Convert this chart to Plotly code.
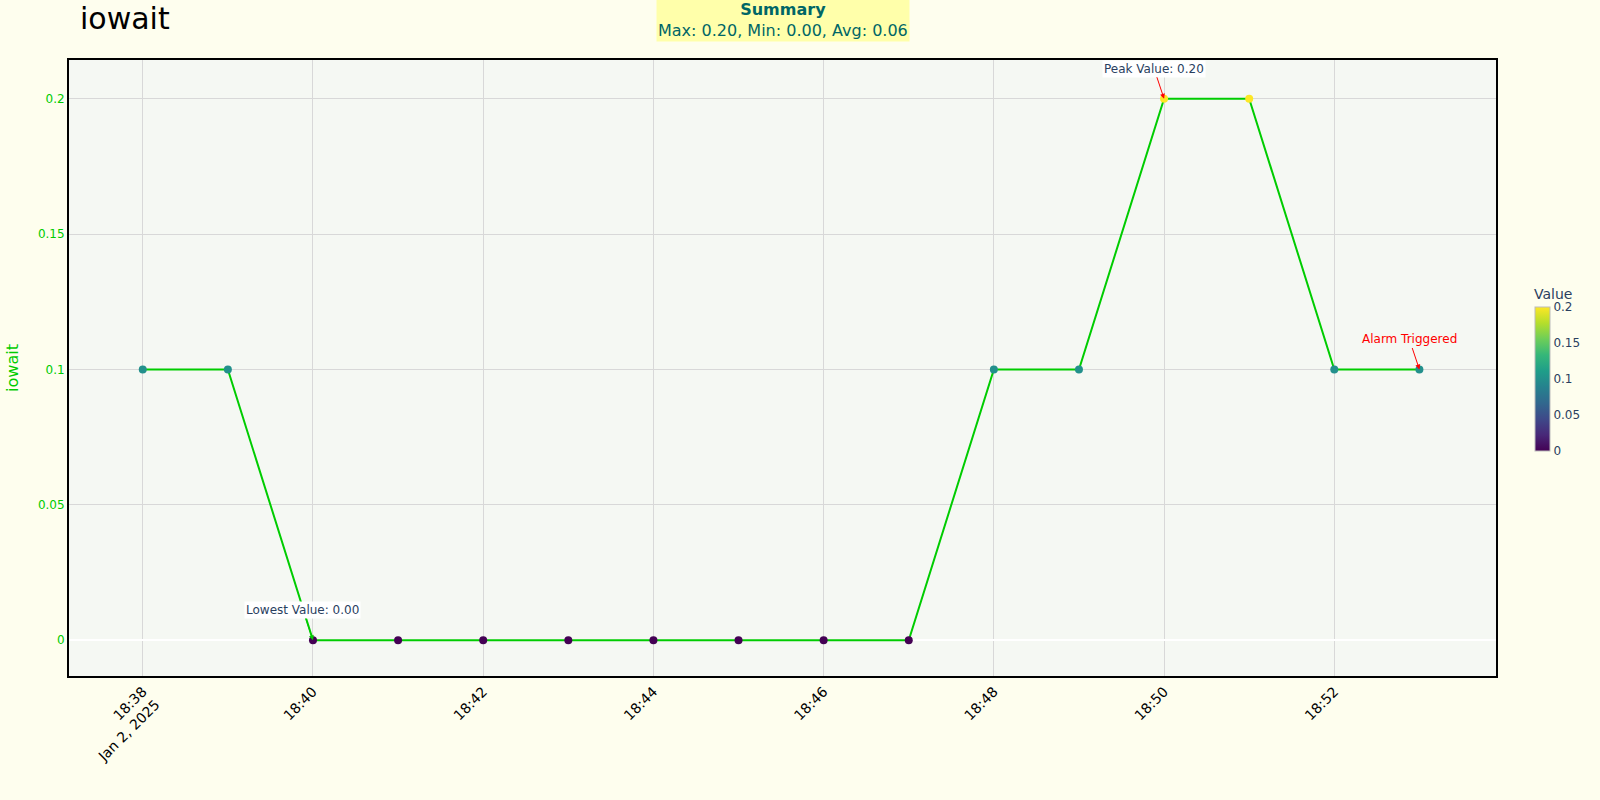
import plotly.graph_objects as go
import pandas as pd

times = pd.date_range("2025-01-02 18:38", periods=16, freq="1min")
values = [0.1, 0.1, 0.0, 0.0, 0.0, 0.0, 0.0, 0.0, 0.0, 0.0, 0.1, 0.1, 0.2, 0.2, 0.1, 0.1]
ytick_vals = [0, 0.05, 0.1, 0.15, 0.2]

LINE = "#00CC00"

fig = go.Figure()
fig.add_trace(go.Scatter(
    x=times, y=values, mode="lines+markers",
    line=dict(color=LINE, width=2),
    marker=dict(size=8, color=values, colorscale="Viridis", cmin=0, cmax=0.2,
                showscale=True,
                colorbar=dict(title=dict(text="Value", font=dict(size=14, color="#2a3f5f")),
                              len=0.30, thickness=15, x=1.02, xanchor="left", y=0.50,
                              tickfont=dict(size=12, color="#2a3f5f"),
                              outlinecolor="#bbbbbb", outlinewidth=1)),
    showlegend=False,
))

imax = values.index(max(values))
imin = values.index(min(values))
vmax, vmin = max(values), min(values)
avg = sum(values) / len(values)

fig.add_annotation(x=times[imax], y=vmax, text=f"Peak Value: {vmax:.2f}", showarrow=True,
                   arrowhead=2, arrowsize=1, arrowwidth=1, arrowcolor="red", ax=-10, ay=-30,
                   bgcolor="white", font=dict(size=12, color="#2a3f5f"))
fig.add_annotation(x=times[imin], y=vmin, text=f"Lowest Value: {vmin:.2f}", showarrow=True,
                   arrowhead=2, arrowsize=1, arrowwidth=1, arrowcolor=LINE, ax=-10, ay=-30,
                   bgcolor="white", font=dict(size=12, color="#2a3f5f"))
fig.add_annotation(x=times[-1], y=values[-1], text="Alarm Triggered", showarrow=True,
                   arrowhead=2, arrowsize=1, arrowwidth=1, arrowcolor="red", ax=-10, ay=-30,
                   font=dict(size=12, color="red"))
fig.add_annotation(xref="paper", yref="paper", x=0.5, y=1.0, yanchor="bottom", yshift=18,
                   text=f"<b>Summary</b><br>Max: {vmax:.2f}, Min: {vmin:.2f}, Avg: {avg:.2f}",
                   showarrow=False, bgcolor="#FFFFAA", font=dict(size=16, color="#006666"))

fig.update_layout(
    width=1600, height=800,
    title=dict(text="iowait", x=0.05, xanchor="left", y=0.99, yanchor="top",
               font=dict(size=30, color="black")),
    paper_bgcolor="#FEFEEE",
    plot_bgcolor="#F5F8F3",
    margin=dict(l=63, r=104, t=60, b=124),
    font=dict(family="DejaVu Sans, Open Sans, sans-serif"),
)
fig.update_xaxes(
    range=[pd.Timestamp("2025-01-02 18:37:08"), pd.Timestamp("2025-01-02 18:53:54")],
    dtick=120000, tickangle=-45,
    tickfont=dict(size=14, color="black"),
    showgrid=True, gridcolor="#D8D8D8", showline=True, linecolor="black", linewidth=2, mirror=True,
)
fig.update_yaxes(
    range=[-0.0132, 0.2143], tickvals=ytick_vals, ticktext=[f"{v:g}" for v in ytick_vals],
    tickfont=dict(size=12, color=LINE),
    title=dict(text="iowait", font=dict(size=16, color=LINE)),
    showgrid=True, gridcolor="#D8D8D8", zeroline=True, zerolinecolor="white", zerolinewidth=2,
    showline=True, linecolor="black", linewidth=2, mirror=True,
)

fig.write_html("out.html", config={"displayModeBar": False},
               post_script="document.body.style.margin='0';")
